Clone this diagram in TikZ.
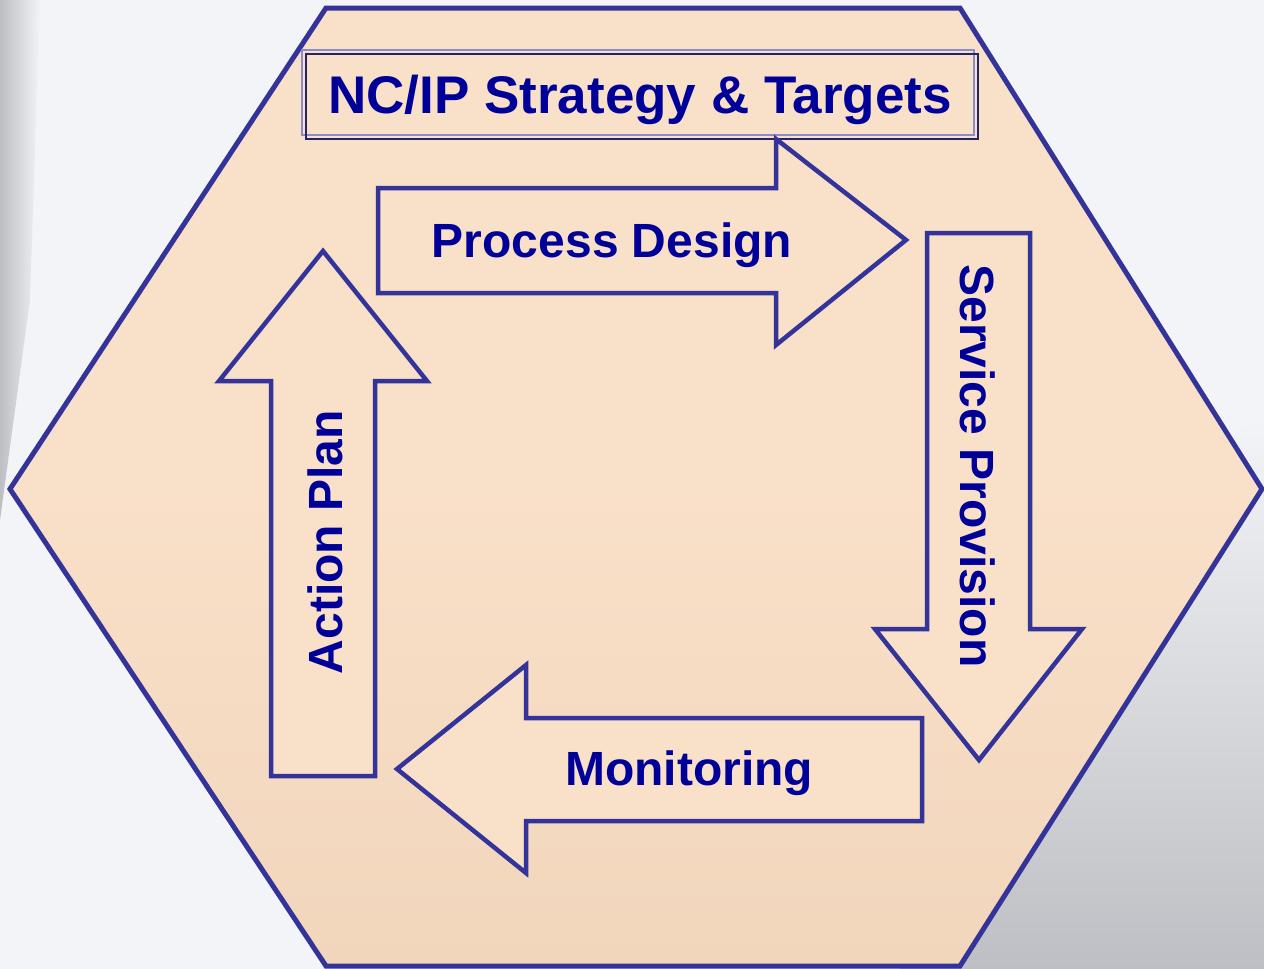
\documentclass[tikz,border=0pt]{standalone}
\usepackage{fontspec}
\setmainfont{Liberation Sans}
\usetikzlibrary{shadings,fadings}
\definecolor{bgpale}{RGB}{243,244,247}
\definecolor{bggrey}{RGB}{190,191,196}
\definecolor{peach}{RGB}{249,224,200}
\definecolor{peachdark}{RGB}{241,214,188}
\definecolor{edgeblue}{RGB}{51,51,153}
\definecolor{textblue}{RGB}{0,0,153}
\definecolor{lavender}{RGB}{140,140,205}
\definecolor{navy}{RGB}{35,35,105}
\tikzset{
  hexedge/.style={draw=edgeblue, line width=5pt, line join=miter},
  arrowshape/.style={draw=edgeblue, line width=4.5pt, fill=peach, line join=miter},
  label/.style={font=\bfseries\fontsize{48}{48}\selectfont, text=textblue, inner sep=0pt},
  titletext/.style={font=\bfseries\fontsize{53}{53}\selectfont, text=textblue, inner sep=0pt}
}
\begin{document}
\begin{tikzpicture}[x=1pt, y=-1pt]
  % page and backdrop
  \useasboundingbox (0,0) rectangle (1264,969);
  \fill[bgpale] (0,0) rectangle (1264,969);
  \fill[bggrey, path fading=east] (0,0) -- (40,0) -- (30,300) -- (0,520) -- cycle;
  \shade[top color=bgpale, bottom color=bggrey] (900,560) -- (1264,420) -- (1264,969) -- (900,969) -- cycle;

  % hexagon
  \shade[top color=peach, bottom color=peachdark, middle color=peach]
    (326,8) -- (960,8) -- (1262,489) -- (960,966) -- (326,966) -- (10,489) -- cycle;
  \draw[hexedge]
    (326,8) -- (960,8) -- (1262,489) -- (960,966) -- (326,966) -- (10,489) -- cycle;

  % title box with double frame
  \draw[lavender, line width=2.5pt] (302,50) rectangle (974,135);
  \draw[navy, line width=1.5pt] (306,54) rectangle (978,139);
  \node[titletext] (title) at (640,100) {NC/IP Strategy \& Targets};

  % right arrow
  \draw[arrowshape] (378,188) -- (776,188) -- (776,139) -- (906,240) -- (776,345)
    -- (776,293) -- (378,293) -- cycle;
  \node[label] (design) at (612,245) {Process Design};

  % down arrow
  \draw[arrowshape] (927,233) -- (1030,233) -- (1030,629) -- (1082,629) -- (979,760)
    -- (875,629) -- (927,629) -- cycle;
  \node[label, rotate=-90] (service) at (978,466) {Service Provision};

  % left arrow
  \draw[arrowshape] (922,718) -- (526,718) -- (526,665) -- (397,769) -- (526,873)
    -- (526,821) -- (922,821) -- cycle;
  \node[label] (monitor) at (689,773) {Monitoring};

  % up arrow
  \draw[arrowshape] (271,776) -- (271,381) -- (219,381) -- (323,251) -- (427,381)
    -- (375,381) -- (375,776) -- cycle;
  \node[label, rotate=90] (action) at (325,542) {Action Plan};
\end{tikzpicture}
\end{document}
